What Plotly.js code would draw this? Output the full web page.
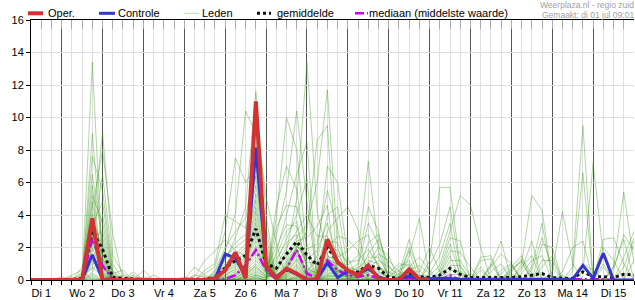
<!DOCTYPE html>
<html><head><meta charset="utf-8">
<script src="https://cdn.plot.ly/plotly-3.0.1.min.js"></script>
<style>html,body{margin:0;padding:0;background:#fff;}#chart{width:635px;height:300px;}</style>
</head><body><div id="chart"></div>
<script>
// ---- data (6-hourly values, first value at Di 1 06:00) ----
const dayLabels = ["Di 1","Wo 2","Do 3","Vr 4","Za 5","Zo 6","Ma 7","Di 8","Wo 9","Do 10","Vr 11","Za 12","Zo 13","Ma 14","Di 15"];
const legendNames = ["Oper.","Controle","Leden","gemiddelde","mediaan (middelste waarde)"];
const sourceLine1 = "Weerplaza.nl - regio zuid";
const sourceLine2 = "Gemaakt: di 01 jul 09:01";

const oper = [0,0,0,0,0, 0,3.8,0,0, 0,0,0,0,0,0,0, 0,0,0.1,0.6,1.7,0.1,11.0,0.9,0.1,0.7,0.4,0,0.05,2.5,1.1,0.6, 0.3,0.9,0.1,0,0,0.65,0.05,0];
const controle = [0,0,0,0,0, 0,1.55,0.05,0, 0,0,0,0,0,0,0, 0,0,0.05,1.6,1.35,0.2,8.15,0.8,0.2,0.65,0.35,0.05,0.05,1.05,0.15,0.55, 0.35,0.7,0.2,0,0.05,0.25,0.05,0.1,0.1, 0.1,0.05,0.05,0.05,0.05,0.05,0.05,0.05,0.05,0.05,0.05,0.05,0.05,0.9,0.1,1.65,0,0,0];
const gemiddelde = [0,0,0,0,0.02, 0.1,3.0,1.9,0.15, 0.1,0.05,0.03,0.02,0.02,0.02,0.02, 0.03,0.05,0.15,0.75,1.2,1.5,3.15,1.0,0.72,1.6,2.36,1.54,0.92,2.0,1.15,0.5, 0.5,0.92,0.72,0.17,0.1,0.37,0.2,0.15,0.3, 0.72,0.35,0.15,0.15,0.15,0.15,0.15,0.2,0.3,0.4,0.15,0.1,0.1,0.5,0.2,0.2,0.15,0.35,0.3];
const mediaan = [0,0,0,0,0, 0,2.55,0.9,0, 0,0,0,0,0,0,0, 0,0,0,0.05,0.3,0.9,1.85,0.6,0.05,0.7,1.85,0.4,0.1,1.2,0.6,0.3, 0.2,0.3,0.1,0,0,0.15,0,0,0, 0.27,0,0,0,0,0,0,0,0,0,0,0,0.05,0.05,0.05,0.05,0,0,0];

const leden = [
[0,0,0,0,0, 0,13.4,0.9,0, 0,0,0,0,0,0,0, 0,0,0,0.4,0.6,1.0,3.0,0.7,0.8,1.4,2.2,1.1,1.0,2.1,1.8,1.1, 1.2,1.9,0.9,0,0,0,0,0,0, 0,0,0,0,0,0,0,1.0,5.2,4.3,0,0,0,0,0,0,0,0,0],
[0,0,0,0,0, 0,9.0,1.4,0, 0,0,0,0,0,0,0, 0,0,0.1,0.8,1.1,1.8,5.3,1.9,0,0.1,0.5,0,0,0.7,0.5,0.3, 0.2,0.5,0.7,0.4,1.0,0.9,0,0,0, 0,0,0,0,0,0,0,0,0,0.8,1.5,0,0,0,0,1.0,0,0,0],
[0,0,0,0,0, 0.2,7.6,5.5,0.6, 0,0,0,0,0,0,0, 0,0,0,0.1,0.3,0.9,1.8,0.6,2.0,3.4,3.3,0.9,0.2,1.3,1.0,0.5, 0.7,1.4,1.4,0.3,0,0,0,0,0, 0,0,0,0,0,0,0.4,0,0,0,0,0,0,0,0,0,0.8,2.5,0],
[0,0,0,0,0, 0,6.5,2.3,0, 0,0,0,0,0,0,0, 0,0,0.4,1.5,2.0,2.5,8.2,3.2,0,0,0.2,0,0,0.4,0.4,0.2, 0.1,0.3,0.2,0,0.4,2.5,0.3,0,0, 0,0,0,0,0,0,0,0,0,0,0,0.5,2.0,2.4,0,0,0,0,0],
[0,0,0,0,0, 0,5.8,0.6,0, 0,0,0,0,0,0,0, 0,0.1,0,0,0,0.2,0.4,0.1,3.2,4.6,4.5,2.2,0,0,0,0, 0,0,0,0,0,0.3,0.3,0,0.2, 1.5,0,0,0,0,0,0,0,0,0,0,0,0,0,0,0,0.6,2.8,1.8],
[0,0,0,0,0, 0,5.2,3.5,0.3, 0,0,0,0,0,0,0, 0,0,0.3,1.2,2.6,4.5,11.6,4.0,0,0,0,0,0,0.2,0.2,0.1, 0,0.1,0,0,0,0.8,1.4,0.6,0, 0,0,0,0,0,0,0,0,0,0,0,0,0,0.5,7.2,1.5,0,0,0],
[0,0,0,0,0, 0,4.8,1.0,0, 0,0,0,0,0,0,0, 0,0,0,0,0.1,0.5,0.8,0.3,1.3,2.3,2.8,0.7,0.4,1.7,1.6,0.5, 0.8,3.5,2.2,0.1,0,0,0,0,0, 0,0,0,0,0,0,0.7,1.1,0,0,0,0,0,0,0,0,0,0,0],
[0,0,0,0,0, 0.5,4.4,8.0,2.8, 0,0.3,0,0,0,0,0, 0,0,0,0.5,0.8,1.2,3.8,0.9,0,0.3,0.9,0.1,0,1.1,0.6,0.3, 0.3,1.0,2.0,1.5,0,0,0,0,0, 0,0,0,0,0,0,0,0,0.8,3.5,0,0,0,0,0,0,0,0,0],
[0,0,0,0,0, 0,4.1,0.4,0, 0,0,0,0,0,0,0, 0,0,0,0.1,0.2,0.7,1.4,0.5,0.1,0.7,1.9,0.5,1.5,7.0,6.0,1.4, 0,0,0,0,0,0,0,0,0, 0,0,0,0,0.8,1.6,1.0,0,0,0,0,0,0,0,0,0,0,0,0],
[0,0,0,0,0, 0,3.8,2.0,0, 0,0,0,0,0,0,0, 0,0.4,0.8,3.0,7.5,6.0,7.0,1.3,0,0,0.2,0,0,0.3,0.3,0.2, 0.1,0.3,0.2,0,0.2,2.0,0.6,0,0, 0,0,0,0,0,0,0,0,0,0,0,0,0.8,9.5,0,0.8,0,0,0],
[0,0,0,0,0, 0,3.6,0.9,0, 0,0,0,0,0,0,0, 0.3,0.2,0,0,0,0.1,0.3,0.1,0.6,1.6,2.6,3.4,6.0,11.7,2.0,0.1, 0,0,0,0,0,0,0,0,0, 1.2,1.2,0.2,0,0,0,0,0,0,0,0,0,0,0,0,0,0,0,0],
[0,0,0,0,0, 0,3.4,4.8,0.4, 0,0,0,0,0,0,0, 0,0,0,0.3,0.7,1.1,2.7,0.7,0,0.6,1.7,0.3,0.5,1.9,2.7,2.5, 1.8,0.7,0.3,0,0,0,0,0,0, 0,0,0,0,0,0,0.8,1.5,0,0,0,0,0,0,0,0,0,0,0],
[0,0,0,0,0, 0,3.2,0.3,0, 0,0,0,0,0,0,0, 0,0,0.2,1.0,1.6,2.2,10.0,5.1,2.3,0,0,0,0,0.1,0.1,0.1, 0,0.1,0,0,0,0.6,0.9,0.4,0, 0,0,0,0,0,0,0,0,0,0,0,0,0,0,0,2.5,2.6,1.0,0],
[0,0,0,0,0, 0,3.0,1.6,0, 0,0,0,0,0,0,0, 0,0,0,0,0,0.4,0.7,0.3,1.5,3.0,3.6,0.6,0.1,1.2,0.8,0.4, 0.5,2.3,2.8,0.6,0,0,0,0,0, 0,0,0,0,0,0,0,0.6,2.4,0,0,0,0,0,0,0,0,0,0],
[0,0,0,0,0, 0,2.9,0.2,0, 0,0,0,0,0,0,0, 0,0,0,0.6,1.0,1.4,4.2,1.1,0,0.2,0.8,0.1,0,1.0,0.6,0.3, 0.3,0.9,1.6,1.2,0.5,0.3,0,0,0, 0,0,0,0,0,0,0,0,0.6,2.6,0.8,0,0,0,0,0,0,0,0],
[0,0,0,0,0, 0.8,2.8,9.1,1.5, 0.4,0,0,0,0,0,0, 0,0,0,0,0.1,0.6,1.2,0.4,0,0.7,1.9,0.5,1.2,4.0,4.5,0.7, 0,0,0,0,0,0,0,0,0, 0,0,0,0,0.5,1.0,0,0,0,0,0,0,0,0,0,0,0,0,0],
[0,0,0,0,0, 0,2.7,1.1,0, 0,0,0,0,0,0,0, 0,0,0,0,0,0.1,0.3,0.1,3.8,10.0,8.0,1.6,0,0,0,0, 0,0,0,0,0,0.2,0,1.2,5.7, 5.7,0.8,0,0,0,0,0,0,0,0,0,0,0,0,0,0,0,0.8,2.6],
[0,0,0,0,0, 0,2.6,0.5,0, 0,0,0,0,0,0,0, 0,0,0.3,1.3,2.3,2.8,5.8,2.2,0,0,0.3,0,0,0.5,0.4,0.3, 0.1,0.4,0.4,0.2,0.6,1.0,0,0,0, 0,0,0,0,0,0,0,0,0,0,0,0.3,0,0,0,0,0.8,5.4,1.0],
[0,0,0,0,0, 0,2.6,3.0,0.3, 0,0,0,0,0,0,0, 0,0,0,0,0,0,0.2,0,0.9,2.0,3.0,4.0,2.7,2.7,0,0, 0,0,0,0,0,0,0,0,0.4, 2.2,0.3,0,0,0,0,0,0,0,0,0,0,0,0,0,0,0,1.4,3.0],
[0,0,0,0,0, 0,2.5,0.8,0, 0,0,0,0,0,0,0, 0,0,0,0.2,0.4,0.9,1.9,0.6,0,0.4,1.3,0.2,0.3,1.4,1.4,1.8, 2.4,2.8,0.6,0,0,0,0,0,0, 0,0,0,0,0,0,0.5,1.2,0,0,0,0,0,0,0,0,0,0,0],
[0,0,0,0,0, 0,2.5,0.1,0, 0,0,0,0,0,0,0, 0,0,0.5,1.8,4.1,10.4,9.0,1.7,0,0,0,0,0,0.1,0.1,0.1, 0,0,0,0,0,0.5,0.5,2.0,0.5, 0.2,0,0,0,0,0,0,0,0,0,0,0,0,0,0,2.0,1.2,0,0],
[0,0,0,0,0, 0.3,2.4,6.5,1.0, 0,0,0,0,0,0,0, 0.8,0.3,0,0,0,0,0.2,0,0.4,1.8,5.0,13.4,4.2,1.6,0,0, 0,0,0,0,0,0,0,0,0.6, 2.6,2.4,0,0.6,0,0,0,0,0,0,0,0,0,0,0,0,0,0,0],
[0,0,0,0,0, 0,2.2,1.2,0, 0.2,0,0,0,0,0,0, 0,0,0,0.5,0.9,1.3,3.2,0.8,0,0.3,1.0,0.2,0.1,1.2,0.7,0.4, 0.4,1.6,2.5,0.9,0,0,0,0,0, 0,0,0,0,0,0,0,0.4,1.2,1.5,0,0,0,0,0,0,0,0,0],
[0,0,0,0,0, 0,2.0,0.4,0, 0,0,0,0,0,0,0, 0,0,0,0,0,0.3,0.9,0.2,0.3,1.1,2.1,1.3,1.8,3.5,1.2,0, 0,0,0,0,0,0,0,0,0, 0.4,0,0.4,0,0.9,2.4,0,0,0,0,0,0,0,0,0,0,0,0,0],
[0,0,0,0,0, 0,1.8,2.6,0.2, 0,0,0,0,0,0,0, 0,0,0.2,0.9,1.4,2.0,4.9,1.5,0,0,0.4,0,0,0.6,0.5,0.3, 0.2,0.5,0.5,0.2,0.8,1.2,0,0,0, 0,0,0,0,0,0,0,0,0,0,0.5,4.2,1.0,0,0,0,0,0,0],
[0,0,0,0,0, 0,1.6,0.3,0, 0,0,0,0,0,0,0, 0,0,0,0,0,0,0.1,0,4.5,7.0,5.6,0.8,0.1,1.2,0.7,0.4, 0.5,1.2,1.0,0,0,0,0,0,0, 0.3,0.4,0,1.4,1.5,0,0,0,0,0,0,0,0,0,0,0,0,0,0],
[0,0,0,0,0, 0,1.4,0.9,0, 0,0,0,0,0,0,0, 0,0,0,0.3,0.5,1.0,2.4,0.6,0,0.5,1.5,0.3,0.3,1.5,1.1,0.9, 1.5,7.3,1.8,0,0,0,0,0,0, 0,0,0,0,0,0,0.6,1.3,0.4,0,0,0,0,0,0,0,0,0,0],
[0,0,0,0,0, 0,1.2,0.7,0, 0,0,0,0,0,0,0, 0,0,0,0,0,0.3,0.6,0.2,0.2,1.0,2.0,1.9,2.2,5.5,3.2,0, 0,0,0,0,0,0,0,0,0, 0.6,0.5,0,1.2,1.3,0,0,0,0,0,0,0,0,0,0,0,0,0,0],
[0,0,0,0,0, 0,1.0,1.3,0, 0,0,0,0,0,0,0, 0,0,0.6,2.0,3.0,3.8,7.5,2.6,0,0,0.1,0,0,0.2,0.2,0.2, 0,0.2,0,0,0,1.5,3.8,0.2,0, 0,0,0,0,0,0,0,0,0,0,0,0,0,1.0,0.6,0,0,0,0],
[0,0,0,0,0, 0,0.8,0.2,0, 0,0,0,0,0,0,0, 0,0,0,0,0,0,0.1,0,2.7,5.5,10.4,4.8,0,0,0,0, 0,0,0,0,0,0.2,0,0.9,2.2, 4.5,0.6,0,0,0,0,0,0,0,0,0,0,0,0,0,0,0,0,2.4],
[0,0,0,0,0, 0.4,0.7,4.0,0.5, 0,0,0,0,0,0,0, 0,0,0.1,0.7,1.2,1.6,4.5,1.2,0,0.2,0.7,0.1,0,0.9,0.6,0.3, 0.3,0.8,1.2,0.8,0.3,0.4,0,0,0, 0,0,0,0,0,0,0,0,0,2.2,2.0,0,0,0,0,0,0,0,0],
[0,0,0,0,0, 0,0.5,1.8,0, 0,0,0,0,0,0,0, 0,0,0,0.1,0.2,0.8,1.6,0.5,0.2,0.9,1.9,0.4,0.6,2.4,2.3,0.8, 0.6,0,0,0,0,0,0,0,0, 0,0,0,0,0,0.4,0.9,0,0,0,0,0,0,0,0,0,0,0,0],
[0,0,0,0,0, 0,0.4,0.1,0, 0,0,0,0,0,0,0, 0,0,0,0,0,0,0,0,0.1,0.8,2.0,3.0,8.6,9.5,0,0, 0,0,0,0,0,0,0,0,0.3, 1.8,1.7,0.8,0,1.0,0,0,0,0,0,0,0,0,0,0,0,0,0,0],
[0,0,0,0,0, 0,0.3,0,0, 0.3,0,0.2,0,0,0,0, 0,0.6,1.0,4.0,3.6,3.2,6.4,1.0,0,0,0.1,0,0,0.3,0.3,0.2, 0,0.2,0.1,0,0.2,1.8,0,0,0, 0,0,0,0,0,0,0,0,0,0,0,0,0.5,6.6,0,0,0,0,0],
[0,0,0,0,0, 0,0.2,0,0, 0,0,0,0,0,0,0.2, 0,0,0,0,0,0,0,0,1.1,2.6,4.0,6.2,0,0,0,0, 0,0,0,0,0,0,0,0.3,0.9, 3.0,5.2,4.6,2.0,0,0,0,0,0,0,0,0,0,0,0,0,0,0,0],
[0,0,0,0,0, 0,0.1,0,0, 0,0,0,0,0,0,0, 0,0,0,0.2,0.3,0.9,2.1,0.6,0,0.4,1.2,0.2,0.2,1.3,0.9,0.6, 1.0,4.5,3.0,0,0,0,0,0,0, 0,0,0,0,0,0,0,0.8,1.5,0,0,0,0,0,0,0,0,0,0],
[0,0,0,0,0.3, 0.6,0,0,0, 0,0.2,0,0,0,0,0, 0,0,0,0,0.1,0.5,1.0,0.4,0,0.7,1.8,0.4,0.8,3.0,3.8,4.5, 3.1,0,0,0,0,0,0,0,0, 0,0,0,0,0,0.6,1.0,0,0,0,0,0,0,0,0,0,0,0,0],
[0,0,0,0,0.2, 0,0,0,0.4, 0.6,0,0,0,0,0,0, 0,0,0,0,0,0,0,0,1.7,4.0,6.5,8.5,0,0,0,0, 0,0,0,0,0,0.1,0,0.4,1.5, 3.5,0,0,0,0,0,0,0,0,0,0,0,0,0,0,0,0,0,1.2],
[0,0,0,0.2,0, 0,0,0,0.3, 0,0,0.6,0,0,0,0, 0.2,1.2,1.8,2.5,1.8,1.5,3.5,0.8,0,0.1,0.6,0,0,0.8,0.6,0.3, 0.2,0.6,0.8,0.5,0,0,0,0,0, 0,0,0,0,0,0,0,0,0,1.2,1.2,0,0,0,0,0,0,0,0],
[0,0,0,0,0, 0,0,0,0, 0,0.5,0,0.3,0,0,0, 0,0,0,0,0,0.2,0.5,0.2,0.5,1.2,2.4,2.6,3.3,4.6,0,0, 0,0,0,0,0,0,0,0,0, 0.9,0.9,0,0.8,0,0,0,0,0,0,0,0,0,0,0,0,0,0,0]
];

// ---- time grid & geometry ----
const startHour = 6, stepHours = 6, endHour = 360;
const hoursOf = arr => arr.map((_, i) => startHour + i * stepHours);
const W = 635, H = 300, M = {l: 31, r: 1, t: 20, b: 20};
const PW = W - M.l - M.r, PH = H - M.t - M.b;
const fx = p => (p - M.l) / PW;
const fy = p => (H - M.b - p) / PH;
const FONT = "Liberation Sans, Arial, sans-serif";

const COL = {oper: "#d33232", ctrl: "#3434d0", leden: "rgba(60,150,30,0.4)", ledenLeg: "#b4d9a4", mean: "#111111", med: "#cc00ee"};
const medDash = "9px,3px,2px,3px";

const traces = [];
leden.forEach(m => traces.push({x: hoursOf(m), y: m, type: "scatter", mode: "lines", xaxis: "x", yaxis: "y",
  line: {color: COL.leden, width: 1}, hoverinfo: "skip", showlegend: false, name: legendNames[2]}));
traces.push({x: hoursOf(gemiddelde), y: gemiddelde, type: "scatter", mode: "lines", xaxis: "x", yaxis: "y",
  line: {color: COL.mean, width: 3, dash: "dot"}, showlegend: false, name: legendNames[3]});
traces.push({x: hoursOf(mediaan), y: mediaan, type: "scatter", mode: "lines", xaxis: "x", yaxis: "y",
  line: {color: COL.med, width: 2.5, dash: medDash}, showlegend: false, name: legendNames[4]});
traces.push({x: hoursOf(controle), y: controle, type: "scatter", mode: "lines", xaxis: "x2", yaxis: "y",
  line: {color: COL.ctrl, width: 3}, showlegend: false, name: legendNames[1]});
traces.push({x: hoursOf(oper), y: oper, type: "scatter", mode: "lines", xaxis: "x3", yaxis: "y",
  line: {color: COL.oper, width: 4}, showlegend: false, name: legendNames[0]});

// ---- custom legend (pixel-placed) ----
const legY = 13.3;
const legItems = [
  {sym: [28, 43], text: 48, color: COL.oper, width: 4, dash: "solid"},
  {sym: [99, 115], text: 118, color: COL.ctrl, width: 3, dash: "solid"},
  {sym: [184, 199], text: 202, color: COL.ledenLeg, width: 1, dash: "solid"},
  {sym: [257, 271], text: 277, color: COL.mean, width: 3, dash: "dot"},
  {sym: [355, 368], text: 369, color: COL.med, width: 2.5, dash: medDash}
];
const shapes = legItems.map(it => ({type: "line", xref: "paper", yref: "paper",
  x0: fx(it.sym[0]), x1: fx(it.sym[1]), y0: fy(legY), y1: fy(legY),
  line: {color: it.color, width: it.width, dash: it.dash}}));
const annotations = legItems.map((it, k) => ({xref: "paper", yref: "paper", x: fx(it.text - 2), y: fy(legY),
  xanchor: "left", yanchor: "middle", showarrow: false, text: legendNames[k], font: {family: FONT, size: 11, color: "#000"}}));
annotations.push({xref: "paper", yref: "paper", x: fx(634), y: fy(5.4), xanchor: "right", yanchor: "middle",
  showarrow: false, borderpad: 0, borderwidth: 0, text: sourceLine1, font: {family: FONT, size: 8.5, color: "#a0a0a0"}});
annotations.push({xref: "paper", yref: "paper", x: fx(634), y: fy(15.3), xanchor: "right", yanchor: "middle",
  showarrow: false, borderpad: 0, borderwidth: 0, text: sourceLine2, font: {family: FONT, size: 8.5, color: "#a0a0a0"}});

const layout = {
  width: W, height: H, margin: M, paper_bgcolor: "#fff", plot_bgcolor: "#fff",
  font: {family: FONT, size: 11, color: "#000"}, showlegend: false,
  xaxis: {range: [startHour, endHour], tick0: 0, dtick: 24, showgrid: true, gridcolor: "#555", gridwidth: 1,
    ticks: "outside", ticklen: 4, tickcolor: "#000", showticklabels: false, showline: true, linecolor: "#000",
    zeroline: false, fixedrange: true,
    minor: {tick0: 0, dtick: 6, showgrid: true, gridcolor: "#dedede", ticks: "outside", ticklen: 4, tickcolor: "#000"}},
  xaxis2: {overlaying: "x", anchor: "y", side: "bottom", range: [startHour, endHour], tickmode: "array",
    tickvals: dayLabels.map((_, k) => 24 * k + 12), ticktext: dayLabels, ticks: "outside", ticklen: 3,
    tickcolor: "rgba(0,0,0,0)", showgrid: false, showline: false, zeroline: false, tickfont: {family: FONT, size: 11, color: "#000"}},
  xaxis3: {overlaying: "x", anchor: "y", side: "top", range: [startHour, endHour], tick0: 0, dtick: 6,
    ticks: "inside", ticklen: 9, tickcolor: "#aaaaaa", showticklabels: false, showline: true, linecolor: "#000",
    showgrid: false, zeroline: false},
  yaxis: {range: [0, 16], dtick: 2, tick0: 0, showgrid: true, gridcolor: "#dedede", ticks: "outside", ticklen: 4,
    tickcolor: "#000", showline: true, linecolor: "#000", zeroline: false, tickfont: {family: FONT, size: 11, color: "#000"}},
  shapes: shapes, annotations: annotations
};
Plotly.newPlot("chart", traces, layout, {staticPlot: true, displayModeBar: false});
</script></body></html>
